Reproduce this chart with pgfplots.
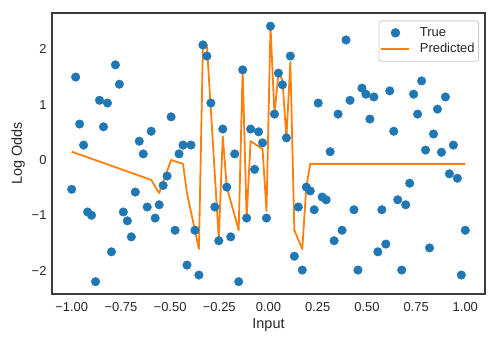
\documentclass[border=0pt]{standalone}
\usepackage{fontspec}
\setmainfont{Liberation Sans}
\usepackage{pgfplots}
\pgfplotsset{compat=1.18}
\definecolor{tabblue}{HTML}{1F77B4}
\definecolor{taborange}{HTML}{FF7F0E}
\definecolor{spine}{HTML}{262626}
\definecolor{legframe}{HTML}{CCCCCC}
\pgfplotsset{
  legline/.style={legend image code/.code={\draw[##1, line width=2bp] (0bp,0bp) -- (28bp,0bp); \path (35bp,0bp);}},
  legdot/.style={legend image code/.code={\draw[##1] plot coordinates {(14bp,0bp)}; \path (0bp,0bp) (35bp,0bp);}},
}

\begin{document}
\begin{tikzpicture}
\begin{axis}[
  scale only axis, width=433bp, height=281bp,
  xmin=-1.1, xmax=1.1, ymin=-2.423, ymax=2.658,
  axis line style={spine!90!white, line width=1.25bp},
  major tick length=0pt,
  xtick={-1,-0.75,-0.5,-0.25,0,0.25,0.5,0.75,1},
  xticklabels={−1.00,−0.75,−0.50,−0.25,0.00,0.25,0.50,0.75,1.00},
  ytick={-2,-1,0,1,2}, yticklabels={−2,−1,0,1,2},
  tick label style={font=\fontsize{13}{15}\selectfont, text=spine},
  xticklabel style={yshift=-5bp}, yticklabel style={xshift=-2bp},
  xlabel={Input}, ylabel={Log Odds},
  label style={font=\fontsize{14.5}{17}\selectfont, text=spine},
  legend style={at={(1,1)}, anchor=north east, xshift=-6bp, yshift=-7.5bp,
    draw=legframe, line width=0.8bp, rounded corners=2.5bp, fill=white,
    font=\fontsize{13}{15}\selectfont, text=spine, inner xsep=1.5bp, inner ysep=4bp,
    nodes={inner sep=2.5bp, text depth=0.2em}},
  legend cell align=left,
  clip=false,
]
\addplot[only marks, mark=*, mark size=4.3bp, color=tabblue, legdot]
coordinates {
(-1.0000,-0.53)(-0.9798,1.50)(-0.9596,0.65)(-0.9394,0.27)(-0.9192,-0.94)
(-0.8990,-1.00)(-0.8788,-2.20)(-0.8586,1.08)(-0.8384,0.60)(-0.8182,1.03)
(-0.7980,-1.66)(-0.7778,1.72)(-0.7576,1.37)(-0.7374,-0.94)(-0.7172,-1.10)
(-0.6970,-1.39)(-0.6768,-0.58)(-0.6566,0.34)(-0.6364,0.11)(-0.6162,-0.85)
(-0.5960,0.52)(-0.5758,-1.05)(-0.5556,-0.81)(-0.5354,-0.46)(-0.5152,-0.29)
(-0.4949,0.78)(-0.4747,-1.27)(-0.4545,0.11)(-0.4343,0.27)(-0.4141,-1.90)
(-0.3939,0.27)(-0.3737,-1.27)(-0.3535,-2.08)(-0.3333,2.08)(-0.3131,1.88)
(-0.2929,1.03)(-0.2727,-0.85)(-0.2525,-1.46)(-0.2323,0.56)(-0.2121,-0.49)
(-0.1919,-1.39)(-0.1717,0.11)(-0.1515,-2.20)(-0.1313,1.63)(-0.1111,-1.05)
(-0.0909,0.56)(-0.0707,-0.17)(-0.0505,0.51)(-0.0303,0.31)(-0.0101,-1.05)
(0.0101,2.42)(0.0303,0.83)(0.0505,1.57)(0.0707,1.36)(0.0909,0.40)
(0.1111,1.88)(0.1313,-1.74)(0.1515,-0.85)(0.1717,-1.99)(0.1919,-0.49)
(0.2121,-0.56)(0.2323,-0.90)(0.2525,1.03)(0.2727,-0.67)(0.2929,-0.72)
(0.3131,0.15)(0.3333,-1.46)(0.3535,0.83)(0.3737,-1.27)(0.3939,2.17)
(0.4141,1.08)(0.4343,-0.90)(0.4545,-1.99)(0.4747,1.30)(0.4949,1.19)
(0.5152,0.74)(0.5354,1.14)(0.5556,-1.66)(0.5758,-0.90)(0.5960,-1.52)
(0.6162,1.25)(0.6364,0.52)(0.6566,-0.72)(0.6768,-1.99)(0.6970,-0.81)
(0.7172,-0.42)(0.7374,1.19)(0.7576,0.83)(0.7778,1.43)(0.7980,0.18)
(0.8182,-1.59)(0.8384,0.47)(0.8586,0.92)(0.8788,0.14)(0.8990,1.14)
(0.9192,-0.25)(0.9394,0.27)(0.9596,-0.33)(0.9798,-2.08)(1.0000,-1.27)
};
\addlegendentry{True}
\addplot[mark=none, color=taborange, line width=1.8bp, line join=round, legline]
coordinates {
(-1.0000,0.15)(-0.5960,-0.36)(-0.5556,-0.60)(-0.4949,0.00)(-0.4343,-0.07)
(-0.4141,-0.60)(-0.3535,-1.61)(-0.3333,2.04)(-0.3131,2.08)(-0.2525,-1.43)
(-0.2323,0.43)(-0.2121,-0.49)(-0.1515,-1.27)(-0.1313,1.63)(-0.1111,-1.05)
(-0.0909,0.34)(-0.0303,0.20)(-0.0101,-0.92)(0.0101,2.42)(0.0303,0.83)
(0.0505,1.57)(0.0707,1.45)(0.0909,0.40)(0.1111,1.77)(0.1313,-1.27)
(0.1717,-1.61)(0.1919,-0.49)(0.2121,-0.07)(1.0000,-0.07)
};
\addlegendentry{Predicted}
\end{axis}
\path (current axis.south west) ++(-52bp,-50bp) coordinate (bl);
\path (current axis.north east) ++(14bp,13bp) coordinate (tr);
\pgfresetboundingbox
\path (bl) rectangle (tr);
\end{tikzpicture}
\end{document}
